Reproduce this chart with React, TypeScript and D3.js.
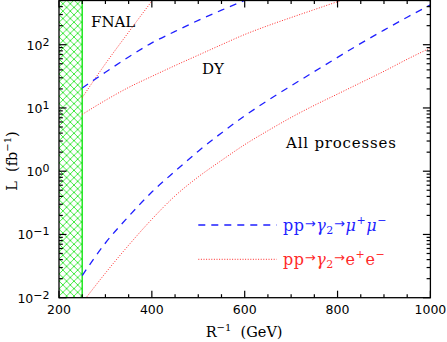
import React, { useEffect, useRef } from 'react';
import * as d3 from 'd3';

// R^-1 grid in GeV, the curves below are read at these points
const rInv = [250, 300, 350, 400, 450, 500, 550, 600, 650, 700, 750, 800, 850, 900, 950, 1000];

// luminosity needed, fb^-1
const fnalEE = [14.6, 50, 158, 490, 1480];
const dyMuMu = [20.7, 36.7, 63.8, 107, 162, 243, 351, 501, 708];
const dyEE = [7.9, 13.2, 21.1, 31.6, 46.8, 68.4, 100, 145, 200, 269, 359, 479, 631];
const allMuMu = [0.0224, 0.0733, 0.193, 0.468, 1.0, 2.07, 4.03, 7.5, 13.2, 22.4, 37.6, 63.1, 105, 170, 272, 427];
const allEE = [0.0083, 0.0245, 0.0676, 0.174, 0.407, 0.813, 1.48, 2.63, 4.37, 7.08, 11.0, 16.6, 25.1, 38.0, 58.9, 89.1];

const xTicks = [200, 400, 600, 800, 1000];
const yExponents = [-2, -1, 0, 1, 2];
const excluded = [200, 250];

type Part = { t: string; size?: number; off?: number; italic?: boolean; family?: string };

const W = 447;
const H = 342;
const BLUE = '#1f1fff';
const RED = '#ff2a2a';
const SERIF = 'DejaVu Serif, serif';
const SANS = 'DejaVu Sans, sans-serif';

// tspans with relative dy so text-anchor still works on the whole label
function rich(sel: any, parts: Part[], base: number) {
  let cur = 0;
  parts.forEach((p) => {
    const off = p.off ?? 0;
    sel.append('tspan')
      .attr('dy', off - cur)
      .attr('font-size', p.size ?? base)
      .attr('font-style', p.italic ? 'italic' : 'normal')
      .attr('font-family', p.family ?? null)
      .text(p.t);
    cur = off;
  });
}

const App = () => {
  const ref = useRef<SVGSVGElement>(null);

  useEffect(() => {
    const svg = d3.select(ref.current);
    svg.selectAll('*').remove();

    const x = d3.scaleLinear().domain([200, 1000]).range([59, 430.4]);
    const y = d3.scaleLog().domain([0.01, 500]).range([297.7, 0.5]);
    const [x0, x1] = x.range();
    const [y0, y1] = y.range();

    const defs = svg.append('defs');
    defs.append('clipPath').attr('id', 'plot')
      .append('rect')
      .attr('x', x0).attr('y', y1)
      .attr('width', x1 - x0).attr('height', y0 - y1);

    const pat = defs.append('pattern').attr('id', 'hatch')
      .attr('patternUnits', 'userSpaceOnUse')
      .attr('width', 7.4).attr('height', 7.4);
    pat.append('path')
      .attr('d', 'M0,0L7.4,7.4M0,7.4L7.4,0')
      .attr('stroke', '#2ee62e').attr('stroke-width', 0.9);

    // excluded region
    svg.append('rect')
      .attr('x', x(excluded[0])).attr('y', y1)
      .attr('width', x(excluded[1]) - x(excluded[0])).attr('height', y0 - y1)
      .attr('fill', 'url(#hatch)');
    svg.append('line')
      .attr('x1', x(excluded[1])).attr('x2', x(excluded[1]))
      .attr('y1', y1).attr('y2', y0)
      .attr('stroke', '#22e622').attr('stroke-width', 1.5);

    const line = d3.line<number>()
      .x((d, i) => x(rInv[i]))
      .y((d) => y(d))
      .curve(d3.curveMonotoneX);

    const curves = [
      { l: fnalEE, c: RED, dash: '1,1.6', w: 1 },
      { l: dyMuMu, c: BLUE, dash: '7,6', w: 1.3 },
      { l: dyEE, c: RED, dash: '1,1.6', w: 1 },
      { l: allMuMu, c: BLUE, dash: '7,6', w: 1.3 },
      { l: allEE, c: RED, dash: '1,1.6', w: 1 },
    ];
    const cg = svg.append('g').attr('clip-path', 'url(#plot)');
    curves.forEach((s) => {
      cg.append('path')
        .attr('d', line(s.l))
        .attr('fill', 'none')
        .attr('stroke', s.c)
        .attr('stroke-width', s.w)
        .attr('stroke-dasharray', s.dash);
    });

    // frame + ticks on all four sides, pointing in
    svg.append('rect')
      .attr('x', x0).attr('y', y1)
      .attr('width', x1 - x0).attr('height', y0 - y1)
      .attr('fill', 'none').attr('stroke', '#000').attr('stroke-width', 1.3);

    const tg = svg.append('g').attr('stroke', '#000').attr('stroke-width', 1.2);
    d3.range(200, 1001, 50).forEach((v) => {
      const len = v % 200 === 0 ? 7 : 3.5;
      tg.append('line').attr('x1', x(v)).attr('x2', x(v)).attr('y1', y0).attr('y2', y0 - len);
      tg.append('line').attr('x1', x(v)).attr('x2', x(v)).attr('y1', y1).attr('y2', y1 + len);
    });
    yExponents.forEach((e) => {
      d3.range(1, 10).forEach((k) => {
        const v = k * Math.pow(10, e);
        if (v > 500) return;
        const len = k === 1 ? 7.5 : 3.8;
        tg.append('line').attr('x1', x0).attr('x2', x0 + len).attr('y1', y(v)).attr('y2', y(v));
        tg.append('line').attr('x1', x1).attr('x2', x1 - len).attr('y1', y(v)).attr('y2', y(v));
      });
    });

    // tick labels
    svg.append('g').selectAll('text')
      .data(xTicks).enter().append('text')
      .attr('x', (d) => x(d)).attr('y', y0 + 16.6)
      .attr('text-anchor', 'middle')
      .attr('font-family', SANS).attr('font-size', 12.5)
      .text((d) => d);

    yExponents.forEach((e) => {
      const t = svg.append('text')
        .attr('x', 49.5).attr('y', y(Math.pow(10, e)) + 5)
        .attr('text-anchor', 'end')
        .attr('font-family', SANS);
      rich(t, [
        { t: '10' },
        { t: e < 0 ? '\u2212' + Math.abs(e) : String(e), size: 11, off: -4 },
      ], 12.5);
    });

    // axis titles
    const xt = svg.append('text')
      .attr('x', 205.7).attr('y', 337.3)
      .attr('font-family', SERIF);
    rich(xt, [
      { t: 'R' },
      { t: '\u22121', size: 10, off: -6 },
      { t: '\u00a0\u00a0(GeV)' },
    ], 14.5);

    const yt = svg.append('text')
      .attr('transform', 'translate(16.7,161) rotate(-90)')
      .attr('text-anchor', 'middle')
      .attr('font-family', SERIF);
    rich(yt, [
      { t: 'L\u00a0\u00a0(fb' },
      { t: '\u22121', size: 10, off: -6 },
      { t: ')' },
    ], 14.5);

    // curve labels
    const notes = [
      { t: 'FNAL', px: 91, py: 26.7 },
      { t: 'DY', px: 202, py: 74 },
      { t: 'All processes', px: 286, py: 148.3 },
    ];
    notes.forEach((n) => {
      svg.append('text')
        .attr('x', n.px).attr('y', n.py)
        .attr('font-family', SERIF).attr('font-size', 15)
        .attr('letter-spacing', n.t.length > 4 ? 0.8 : 0)
        .text(n.t);
    });

    // legend
    const arrow: Part = { t: '\u2192', size: 13, off: -2.5, family: SANS };
    const legend = [
      {
        c: BLUE, dash: '7,6', w: 1.3, ly: 225, ty: 230.6,
        parts: [
          { t: 'pp' }, arrow, { t: '\u03b3', italic: true },
          { t: '2', size: 11, off: 3 }, arrow,
          { t: '\u03bc', italic: true }, { t: '+', size: 11, off: -7 },
          { t: '\u03bc', italic: true }, { t: '\u2212', size: 11, off: -7 },
        ],
      },
      {
        c: RED, dash: '1,1.6', w: 1, ly: 259.3, ty: 264.5,
        parts: [
          { t: 'pp' }, arrow, { t: '\u03b3', italic: true },
          { t: '2', size: 11, off: 3 }, arrow,
          { t: 'e' }, { t: '+', size: 11, off: -7 },
          { t: 'e' }, { t: '\u2212', size: 11, off: -7 },
        ],
      },
    ];
    legend.forEach((lg) => {
      svg.append('line')
        .attr('x1', 198.3).attr('x2', 276.7)
        .attr('y1', lg.ly).attr('y2', lg.ly)
        .attr('stroke', lg.c).attr('stroke-width', lg.w)
        .attr('stroke-dasharray', lg.dash);
      const t = svg.append('text')
        .attr('x', 283).attr('y', lg.ty)
        .attr('fill', lg.c)
        .attr('font-family', SERIF)
        .attr('letter-spacing', 0.6);
      rich(t, lg.parts, 16);
    });
  }, []);

  return (
    <svg
      ref={ref}
      width={W}
      height={H}
      style={{ position: 'absolute', left: 0, top: 0, background: '#fff' }}
    />
  );
};

export default App;
